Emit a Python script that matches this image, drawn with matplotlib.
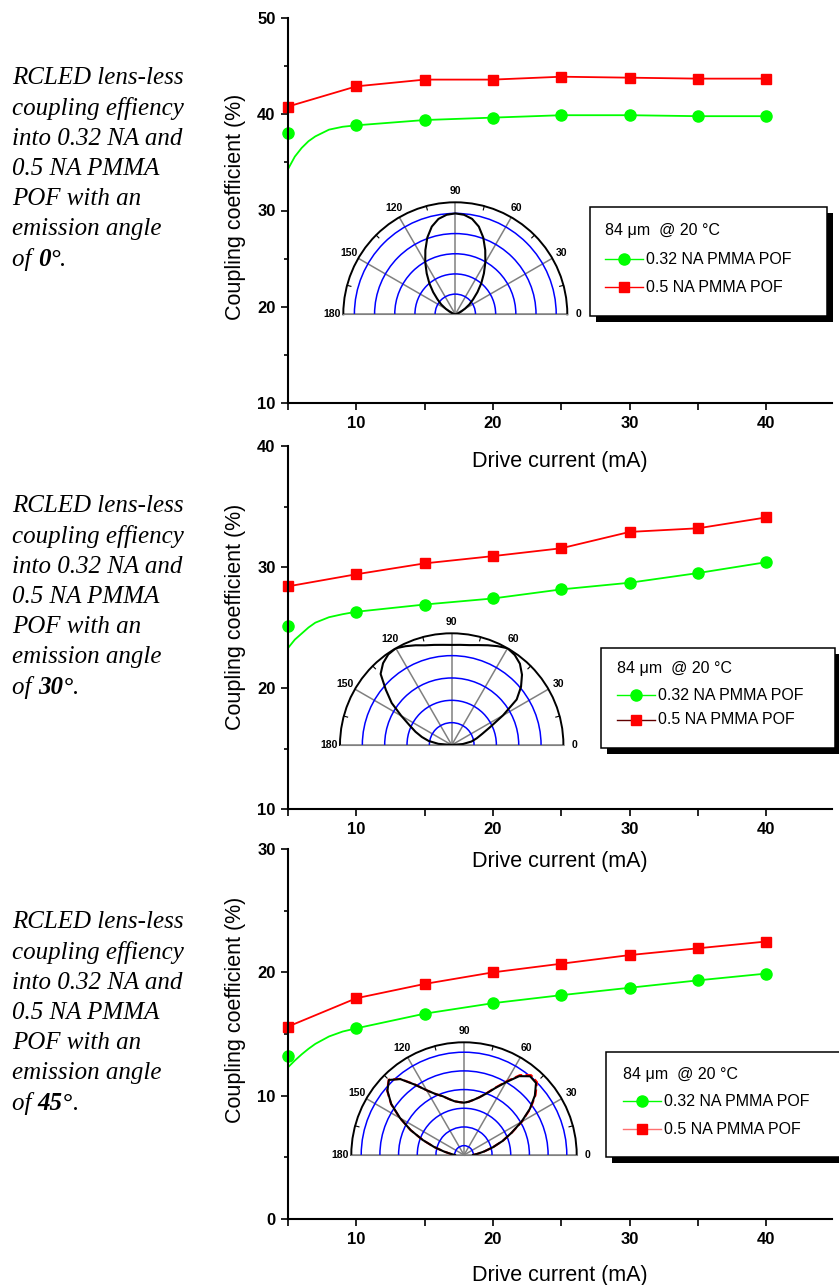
import numpy as np
import matplotlib.pyplot as plt
from matplotlib.transforms import Affine2D
from matplotlib.lines import Line2D
from matplotlib.patches import Rectangle

plt.rcParams['font.family'] = ['Liberation Sans', 'DejaVu Sans']

W, H = 839, 1285

# drive current (mA) of the measured points
currents = [5, 10, 15, 20, 25, 30, 35, 40]

# emission angle 0 deg
p1_green = [38.1, 38.85, 39.4, 39.65, 39.9, 39.9, 39.8, 39.8]
p1_red = [40.8, 42.9, 43.6, 43.6, 43.9, 43.8, 43.7, 43.7]
# emission angle 30 deg
p2_green = [25.15, 26.3, 26.9, 27.4, 28.15, 28.7, 29.5, 30.4]
p2_red = [28.4, 29.4, 30.3, 30.9, 31.55, 32.9, 33.2, 34.1]
# emission angle 45 deg
p3_green = [13.2, 15.46, 16.65, 17.5, 18.15, 18.75, 19.35, 19.9]
p3_red = [15.6, 17.9, 19.06, 20.0, 20.7, 21.4, 21.95, 22.5]

# start of the green fitted curve (before 10 mA)
fit_x = [5, 5.5, 6, 6.5, 7, 8, 9]
p1_fit = [34.3, 35.6, 36.5, 37.2, 37.7, 38.4, 38.7]
p2_fit = [23.3, 24.0, 24.5, 25.0, 25.4, 25.85, 26.1]
p3_fit = [12.3, 12.85, 13.35, 13.8, 14.2, 14.8, 15.2]

# far-field patterns of the insets, 0..180 deg every 5 deg
polar_deg = np.arange(0, 181, 5)
far_0 = [0.0, 0.0, 0.02, 0.07, 0.17, 0.32, 0.55, 0.85, 1.15, 1.55, 2.0, 2.47, 2.98,
         3.51, 4.05, 4.50, 4.80, 4.95, 5.0, 4.95, 4.80, 4.50, 4.05, 3.51, 2.98, 2.47,
         2.0, 1.55, 1.15, 0.85, 0.55, 0.32, 0.17, 0.07, 0.02, 0.0, 0.0]
far_30 = [0.0, 0.5, 0.9, 1.16, 1.45, 1.9, 2.65, 3.55, 4.05, 4.45, 4.75, 4.92, 5.0,
          4.88, 4.75, 4.63, 4.54, 4.50, 4.48, 4.50, 4.55, 4.62, 4.75, 4.88, 5.0, 4.95,
          4.78, 4.50, 3.85, 3.28, 2.60, 2.08, 1.72, 1.38, 1.05, 0.6, 0.0]
far_45 = [0.48, 0.72, 1.1, 1.6, 2.2, 2.8, 3.55, 4.3, 4.95, 5.45, 5.5, 5.15, 4.5,
          3.95, 3.5, 3.2, 3.0, 2.86, 2.80, 2.84, 2.92, 3.1, 3.35, 3.6, 4.0, 4.6,
          5.3, 5.68, 5.35, 4.75, 3.95, 3.15, 2.35, 1.65, 1.1, 0.72, 0.48]
far_45_red = [0.48, 0.72, 1.1, 1.6, 2.2, 2.82, 3.58, 4.35, 5.0, 5.52, 5.58, 5.22, 4.55,
              3.98, 3.52, 3.2, 3.0, 2.86, 2.80, 2.84, 2.92, 3.1, 3.35, 3.6, 4.0, 4.62,
              5.32, 5.7, 5.37, 4.77, 3.97, 3.15, 2.35, 1.65, 1.1, 0.72, 0.48]

angle_labels = ['0', '30', '45']
desc_lines = ['RCLED lens-less', 'coupling effiency', 'into 0.32 NA and',
              '0.5 NA PMMA', 'POF with an', 'emission angle']
legend_title = '84 \u03bcm  @ 20 \u00b0C'
legend_names = ['0.32 NA PMMA POF', '0.5 NA PMMA POF']

fig = plt.figure(figsize=(W / 100, H / 100), dpi=100)
pix = Affine2D().scale(1.0 / W, -1.0 / H).translate(0, 1) + fig.transFigure


def box(l, t, r, b):
    return [l / W, 1 - b / H, (r - l) / W, (b - t) / H]


def draw_main(top, bottom, ylim, ystep, green, red, fit, ylab_y, xlab_gap):
    ax = fig.add_axes(box(288, top, 832, bottom), zorder=0)
    ax.set_facecolor('none')
    ax.plot(fit_x + currents[1:], fit + green[1:], color='#00ff00', lw=1.3)
    ax.plot(currents, green, ls='none', marker='o', color='#00ff00', ms=8, clip_on=False)
    ax.plot(currents, red, color='red', marker='s', ms=7.5, lw=1.3, clip_on=False)
    ax.set_xlim(5, 44.8)
    ax.set_ylim(*ylim)
    ax.set_xticks([10, 20, 30, 40])
    ax.set_xticklabels(['10', '20', '30', '40'], fontweight='bold', fontsize=12)
    ax.set_xticks([5, 15, 25, 35], minor=True)
    yt = np.arange(ylim[0], ylim[1] + 1, ystep)
    ax.set_yticks(yt)
    ax.set_yticklabels([str(int(v)) for v in yt], fontweight='bold', fontsize=12)
    ax.set_yticks(yt[:-1] + ystep / 2, minor=True)
    ax.tick_params(which='both', direction='out', width=1.2, pad=4)
    ax.tick_params(axis='x', which='both', length=5)
    ax.tick_params(axis='y', which='major', length=5)
    ax.tick_params(axis='y', which='minor', length=3)
    for s in ['top', 'right']:
        ax.spines[s].set_visible(False)
    for s in ['left', 'bottom']:
        ax.spines[s].set_linewidth(1.5)
    h = bottom - top
    ax.set_xlabel('Drive current (mA)', fontsize=15.5)
    ax.xaxis.label.set_va('center')
    ax.xaxis.set_label_coords(0.5, -xlab_gap / h)
    ax.set_ylabel('Coupling coefficient (%)', fontsize=15.5)
    ax.yaxis.label.set_va('center')
    ax.yaxis.set_label_coords(-53 / 544, (bottom - ylab_y) / h)
    return ax


def draw_polar(cx, cy, R, rmax, rings, curves):
    # the half disc sits in the vertical middle of a square box
    pol = fig.add_axes(box(cx - R, cy - 1.5 * R, cx + R, cy + 0.5 * R),
                       projection='polar', zorder=2)
    pol.set_thetamin(0)
    pol.set_thetamax(180)
    th = np.radians(polar_deg)
    for r, col, ls in curves:
        pol.plot(th, r, color=col, ls=ls, lw=1.5)
    pol.set_ylim(0, rmax)
    pol.set_rgrids(rings, labels=[''] * len(rings))
    pol.set_thetagrids([0, 30, 60, 90, 120, 150, 180],
                       ['0', '30', '60', '90', '120', '150', '180'],
                       fontsize=7.5, fontweight='bold')
    pol.tick_params(axis='x', pad=1, length=0)
    pol.yaxis.grid(True, color='blue', lw=1.1)
    pol.xaxis.grid(True, color='gray', lw=1.1)
    pol.spines['polar'].set_color('black')
    pol.spines['polar'].set_linewidth(1.4)
    pol.spines['start'].set_color('gray')
    pol.spines['end'].set_color('gray')
    for a in [15, 45, 75, 105, 135, 165]:
        pol.plot([np.radians(a)] * 2, [rmax * 0.965, rmax], color='black', lw=0.8,
                 clip_on=False)
    return pol


def draw_legend(l, t, r, b, tx, lx0, lx1, ys, red_line):
    fig.add_artist(Rectangle((l + 6, t + 6), r - l, b - t, transform=pix,
                             fc='black', ec='none', zorder=4))
    fig.add_artist(Rectangle((l, t), r - l, b - t, transform=pix,
                             fc='white', ec='black', lw=1.1, zorder=5))
    fig.text(tx, ys[0], legend_title, transform=pix, fontsize=11.5, va='center', zorder=6)
    mid = (lx0 + lx1) / 2
    styles = [('#00ff00', 'o', '#00ff00'), (red_line, 's', 'red')]
    for (lc, mk, mc), name, y in zip(styles, legend_names, ys[1:]):
        fig.add_artist(Line2D([lx0, lx1], [y, y], color=lc, lw=1, transform=pix, zorder=6))
        fig.add_artist(Line2D([mid], [y], marker=mk, ms=8 if mk == 'o' else 7.5,
                              color=mc, ls='none', transform=pix, zorder=6))
        fig.text(lx1 + 3, y, name, transform=pix, fontsize=11.5, va='center', zorder=6)


def draw_desc(y0, angle):
    serif = dict(family='Liberation Serif', style='italic', fontsize=18, va='center',
                 transform=pix)
    for k, line in enumerate(desc_lines):
        fig.text(12, y0 + k * 30.3, line, **serif)
    y = y0 + 6 * 30.3
    rend = fig.canvas.get_renderer()
    t = fig.text(12, y, 'of ', **serif)
    x = t.get_window_extent(rend).x1
    t = fig.text(x, y, angle + '\u00b0', fontweight='bold', **serif)
    x = t.get_window_extent(rend).x1
    fig.text(x, y, '.', **serif)


# panel 1: emission angle 0
draw_main(18, 403, (10, 50), 10, p1_green, p1_red, p1_fit, 207, 59)
draw_polar(455.3, 314.3, 112, 5.55, [1, 2, 3, 4, 5], [(far_0, 'black', '-')])
draw_legend(590, 207, 827, 316, 605, 605, 643, [230, 259, 287], 'red')
draw_desc(78, angle_labels[0])

# panel 2: emission angle 30
draw_main(446, 809, (10, 40), 10, p2_green, p2_red, p2_fit, 617, 53)
draw_polar(451.7, 745, 111.7, 5.0, [1, 2, 3, 4], [(far_30, 'black', '-')])
draw_legend(601, 648, 835, 748, 617, 617, 655, [668, 695, 720], '#600000')
draw_desc(506, angle_labels[1])

# panel 3: emission angle 45
draw_main(849, 1219, (0, 30), 10, p3_green, p3_red, p3_fit, 1010, 56)
draw_polar(464, 1155, 112.7, 6.03, [0.5, 1.5, 2.5, 3.5, 4.5, 5.5],
           [(far_45_red, 'red', '--'), (far_45, 'black', '-')])
draw_legend(606, 1052, 850, 1157, 623, 623, 661, [1074, 1101, 1129], '#ff7070')
draw_desc(922, angle_labels[2])

fig.savefig('out.png', dpi=100)
